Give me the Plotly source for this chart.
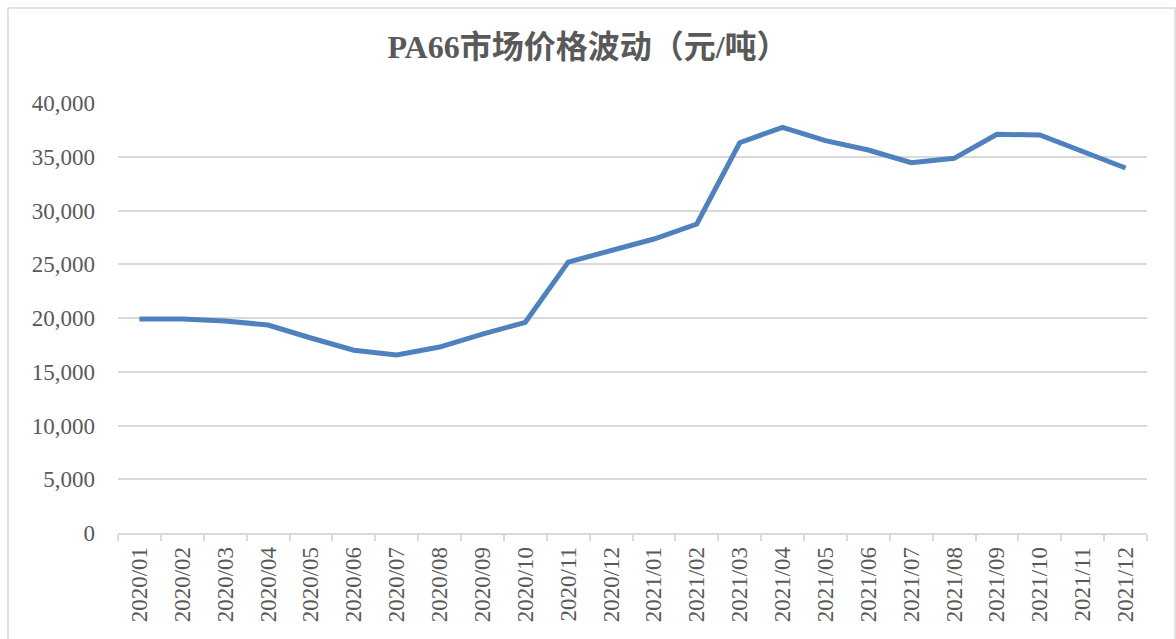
import plotly.graph_objects as go

months = ["2020/01", "2020/02", "2020/03", "2020/04", "2020/05", "2020/06",
          "2020/07", "2020/08", "2020/09", "2020/10", "2020/11", "2020/12",
          "2021/01", "2021/02", "2021/03", "2021/04", "2021/05", "2021/06",
          "2021/07", "2021/08", "2021/09", "2021/10", "2021/11", "2021/12"]
prices = [19900, 19900, 19720, 19350, 18140, 17000,
          16560, 17300, 18500, 19600, 25200, 26300,
          27350, 28740, 36300, 37740, 36500, 35630,
          34450, 34850, 37090, 37020, 35470, 33950]
y_ticks = [0, 5000, 10000, 15000, 20000, 25000, 30000, 35000, 40000]

title_text = "PA66市场价格波动（元/吨）"
text_color = "#595959"
grid_color = "#d9d9d9"
font_family = "Liberation Serif, 'Times New Roman', 'Noto Sans CJK SC', serif"

fig = go.Figure()
fig.add_trace(go.Scatter(
    x=months, y=prices, mode="lines",
    line=dict(color="#4f81bd", width=5),
    hoverinfo="x+y",
))

fig.update_layout(
    width=1176, height=639,
    margin=dict(l=118, r=29, t=103, b=106),
    paper_bgcolor="white", plot_bgcolor="white",
    showlegend=False,
    font=dict(family=font_family, color=text_color),
    title=dict(
        text="<b>" + title_text + "</b>",
        x=0.5, xref="container", xanchor="center",
        y=1 - 47 / 639, yref="container", yanchor="middle",
        font=dict(family=font_family, size=32, color=text_color),
    ),
    xaxis=dict(
        type="category",
        tickangle=-90,
        tickson="boundaries",
        ticks="outside", ticklen=6, tickcolor=grid_color, tickwidth=1.5,
        showline=True, linecolor=grid_color, linewidth=1.5,
        showgrid=False,
        tickfont=dict(family=font_family, size=23, color=text_color),
        ticklabelstandoff=3,
        range=[-0.5, len(months) - 0.5],
    ),
    yaxis=dict(
        range=[0, 40000],
        tickvals=y_ticks,
        tickformat=",d",
        showgrid=True, gridcolor=grid_color, gridwidth=1.5,
        zeroline=False,
        showline=False,
        ticks="",
        tickfont=dict(family=font_family, size=23, color=text_color),
        ticklabelstandoff=22,
    ),
    shapes=[dict(
        type="rect", xref="paper", yref="paper",
        x0=(8 - 118) / 1029, x1=(1175 - 118) / 1029,
        y0=(533 - 660) / 430, y1=(533 - 8) / 430,
        line=dict(color="#d9d9d9", width=1.5),
        fillcolor="rgba(0,0,0,0)", layer="below",
    )],
)

fig.write_html("out.html",
               config={"displayModeBar": False},
               post_script="document.body.style.margin='0';document.body.style.overflow='hidden';")
